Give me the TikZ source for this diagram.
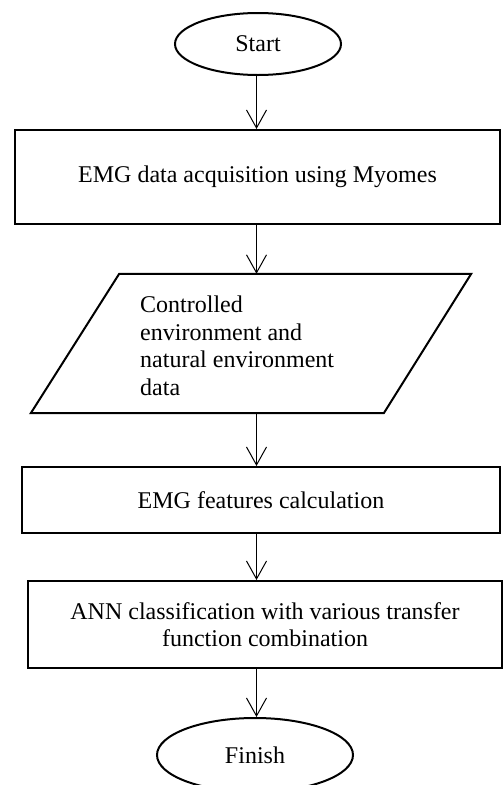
\documentclass[tikz,border=0pt]{standalone}
\usepackage{fontspec}
\setmainfont{Liberation Serif}
\usetikzlibrary{shapes.geometric,arrows.meta}
\begin{document}
\begin{tikzpicture}[x=1pt,y=-1pt,
  every node/.style={font=\fontsize{24}{27.5}\selectfont},
  procbox/.style={draw, line width=2pt, rectangle, inner sep=0pt, align=center},
  termbox/.style={draw, line width=2pt, ellipse, inner sep=0pt},
  flowarrow/.style={draw, line width=1pt, -{Straight Barb[length=18pt,width=20pt,line width=1pt]}}]
\useasboundingbox (0,0) rectangle (503,785);
\clip (0,0) rectangle (503,785);
\coordinate (ax) at (256.5,0);
% nodes
\node[termbox, minimum width=166pt, minimum height=62pt] (start) at (258,44) {Start};
\node[procbox, minimum width=485pt, minimum height=94pt] (acq) at (257.5,177) {EMG data acquisition using Myomes};
\node[inner sep=0pt, minimum width=440pt, minimum height=139pt] (para) at (251,343.5) {};
\draw[line width=2pt, line join=miter] (para.south west) -- ([xshift=353pt]para.south west) -- (para.north east) -- ([xshift=-352pt]para.north east) -- cycle;
\node[anchor=north west, inner sep=0pt, align=left] (ptext) at (140,296) {Controlled\\environment and\\natural environment\\data};
\node[procbox, minimum width=478pt, minimum height=66pt] (feat) at (261,500) {EMG features calculation};
\node[procbox, minimum width=474pt, minimum height=87pt] (ann) at (265,624.5) {ANN classification with various transfer\\function combination};
\node[termbox, minimum width=196pt, minimum height=74pt] (finish) at (255,755) {Finish};
% connectors
\draw[flowarrow] (start.south -| ax) -- (acq.north -| ax);
\draw[flowarrow] (acq.south -| ax) -- (para.north -| ax);
\draw[flowarrow] (para.south -| ax) -- (feat.north -| ax);
\draw[flowarrow] (feat.south -| ax) -- (ann.north -| ax);
\draw[flowarrow] (ann.south -| ax) -- (finish.north -| ax);
\end{tikzpicture}
\end{document}
